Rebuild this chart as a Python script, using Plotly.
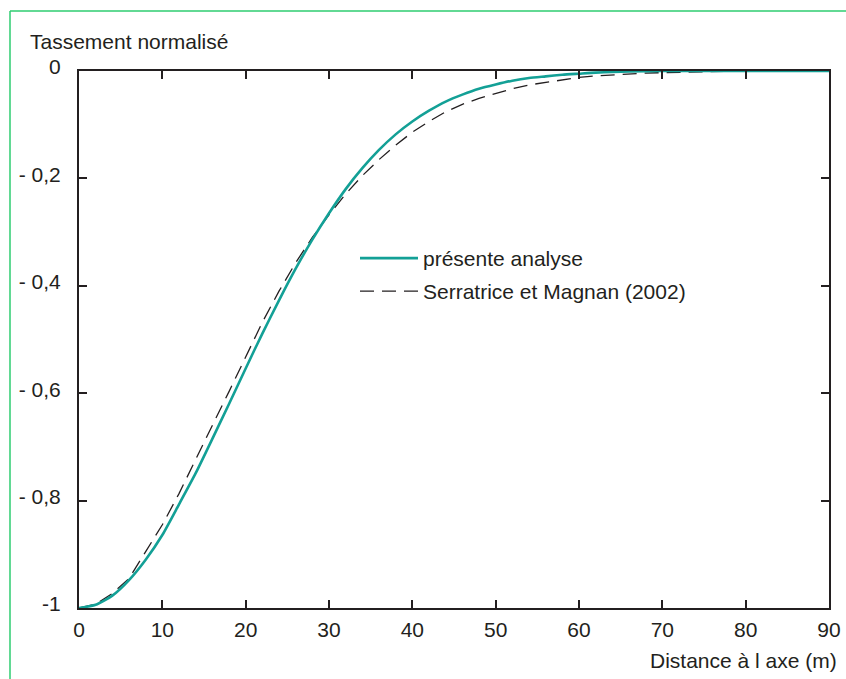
import plotly.graph_objects as go

# --- data ---
dist_present = [0, 2, 4, 6, 8, 10, 12, 14, 16, 18, 20, 22, 24, 26, 28, 30, 32, 34, 36, 38,
                40, 42, 44, 46, 48, 50, 52, 54, 56, 58, 60, 62, 64, 66, 70, 75, 80, 85, 90]
tass_present = [-1.000, -0.994, -0.977, -0.948, -0.910, -0.864, -0.807, -0.749, -0.685, -0.620,
                -0.554, -0.489, -0.427, -0.368, -0.314, -0.265, -0.220, -0.181, -0.147, -0.118,
                -0.094, -0.074, -0.057, -0.044, -0.033, -0.025, -0.018, -0.013, -0.010, -0.007,
                -0.005, -0.003, -0.002, -0.001, 0.0, 0.0, 0.0, 0.0, 0.0]

dist_serr = [0, 2, 4, 6, 8, 10, 12, 14, 16, 18, 20, 22, 24, 26, 28, 30, 32, 34, 36, 38,
             40, 42, 44, 46, 48, 50, 52, 54, 56, 58, 60, 62, 64, 66, 68, 70, 75, 80, 85, 90]
tass_serr = [-1.000, -0.993, -0.973, -0.945, -0.895, -0.845, -0.787, -0.725, -0.660, -0.597,
             -0.533, -0.468, -0.410, -0.357, -0.310, -0.268, -0.229, -0.195, -0.165, -0.138,
             -0.114, -0.094, -0.076, -0.062, -0.051, -0.042, -0.033, -0.026, -0.021, -0.016,
             -0.012, -0.009, -0.007, -0.005, -0.004, -0.003, -0.001, 0.0, 0.0, 0.0]

x_ticks = [0, 10, 20, 30, 40, 50, 60, 70, 80, 90]
y_ticks = [0, -0.2, -0.4, -0.6, -0.8, -1]
y_ticktext = ["0", "- 0,2", "- 0,4", "- 0,6", "- 0,8", "-1"]

name_present = "présente analyse"
name_serr = "Serratrice et Magnan (2002)"
title_y = "Tassement normalisé"
title_x = "Distance à l axe (m)"

TXT = "#231f20"
AX = "#231f20"
FONT = "Liberation Sans, Arial, Helvetica, sans-serif"
FS = 21

W, H = 846, 679
ML, MR, MT, MB = 79, 17, 71, 71
PW = W - ML - MR
PH = H - MT - MB

def px_x(p):
    return (p - ML) / PW

def px_y(p):
    return (H - MB - p) / PH

fig = go.Figure()
fig.add_trace(go.Scatter(
    x=dist_serr, y=tass_serr, mode="lines", name=name_serr,
    line=dict(color="#231f20", width=1.3, dash="14px,8px"),
    legend="legend2",
))
fig.add_trace(go.Scatter(
    x=dist_present, y=tass_present, mode="lines", name=name_present,
    line=dict(color="#13a096", width=2.6, shape="spline", smoothing=0.6),
    legend="legend",
))

axis_common = dict(
    showline=True, linecolor=AX, linewidth=2, mirror="ticks",
    ticks="inside", ticklen=8, tickwidth=2, tickcolor=AX,
    showgrid=False, zeroline=False, automargin=False,
    tickfont=dict(family=FONT, size=FS, color=TXT),
)

fig.update_layout(
    width=W, height=H,
    margin=dict(l=ML, r=MR, t=MT, b=MB),
    paper_bgcolor="white", plot_bgcolor="white",
    font=dict(family=FONT, size=FS, color=TXT),
    xaxis=dict(range=[0, 90], tickvals=x_ticks, ticklabelstandoff=2, **axis_common),
    yaxis=dict(range=[-1, 0], tickvals=y_ticks, ticktext=y_ticktext,
               ticklabelstandoff=12, ticklabelshift=-4, **axis_common),
    legend=dict(x=px_x(355), y=px_y(238), xanchor="left", yanchor="top",
                bgcolor="rgba(0,0,0,0)", itemwidth=58,
                font=dict(family=FONT, size=FS, color=TXT)),
    legend2=dict(x=px_x(355), y=px_y(271), xanchor="left", yanchor="top",
                 bgcolor="rgba(0,0,0,0)", itemwidth=58,
                 font=dict(family=FONT, size=FS, color=TXT)),
    showlegend=True,
    annotations=[
        dict(text=title_y, xref="paper", yref="paper", x=px_x(28), y=px_y(42),
             xanchor="left", yanchor="middle", showarrow=False,
             font=dict(family=FONT, size=FS, color=TXT)),
        dict(text=title_x, xref="paper", yref="paper", x=px_x(839), y=px_y(660),
             xanchor="right", yanchor="middle", showarrow=False,
             font=dict(family=FONT, size=FS, color=TXT)),
    ],
    shapes=[
        dict(type="line", xref="paper", yref="paper", x0=px_x(10), x1=px_x(850),
             y0=px_y(11), y1=px_y(11), line=dict(color="#2ecc71", width=1.5)),
        dict(type="line", xref="paper", yref="paper", x0=px_x(10), x1=px_x(10),
             y0=px_y(11), y1=px_y(690), line=dict(color="#2ecc71", width=1.5)),
    ],
)

fig.write_html("out.html")
